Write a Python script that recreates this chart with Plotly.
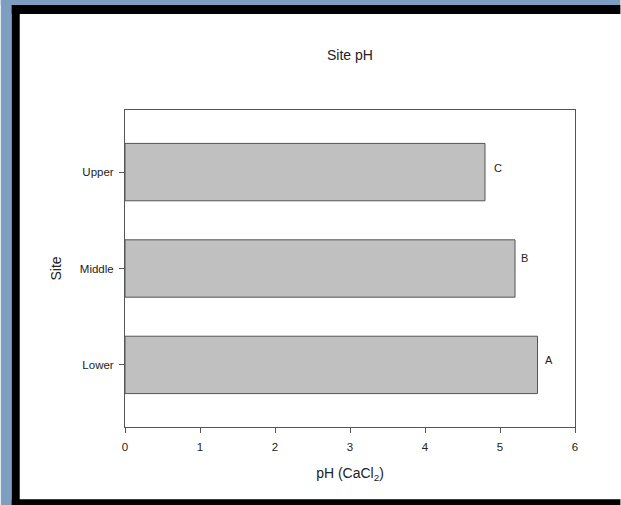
import plotly.graph_objects as go

sites = ["Lower", "Middle", "Upper"]
ph_values = [5.5, 5.2, 4.8]
letters = ["A", "B", "C"]
x_ticks = [0, 1, 2, 3, 4, 5, 6]

W, H = 621, 505
L, R, T, B = 124.5, 575.5, 110, 426.7
pw, ph = R - L, B - T

def px(x):
    return (x - L) / pw

def py(y):
    return (B - y) / ph

TXT = "#222222"

fig = go.Figure()
fig.add_trace(go.Bar(
    y=sites, x=ph_values, orientation="h",
    marker=dict(color="#c0c0c0", line=dict(color="#555555", width=1)),
    showlegend=False, hoverinfo="skip",
))

shifts = {"A": (11, 5), "B": (9, 11), "C": (13, 4)}
for s, v, lt in zip(sites, ph_values, letters):
    dx, dy = shifts[lt]
    fig.add_annotation(x=v, y=s, text=lt, showarrow=False, xanchor="center", yanchor="middle",
                       xshift=dx, yshift=dy, font=dict(size=11, color=TXT))

shapes = [
    dict(type="rect", xref="paper", yref="paper", x0=px(0), x1=px(11), y0=py(H), y1=py(0),
         fillcolor="#7d9dc1", line=dict(width=0), layer="above"),
    dict(type="rect", xref="paper", yref="paper", x0=px(0), x1=px(W), y0=py(5), y1=py(0),
         fillcolor="#7d9dc1", line=dict(width=0), layer="above"),
    dict(type="rect", xref="paper", yref="paper", x0=px(11), x1=px(19), y0=py(H), y1=py(5),
         fillcolor="#000000", line=dict(width=0), layer="above"),
    dict(type="rect", xref="paper", yref="paper", x0=px(11), x1=px(W), y0=py(14), y1=py(5),
         fillcolor="#000000", line=dict(width=0), layer="above"),
    dict(type="rect", xref="paper", yref="paper", x0=px(11), x1=px(W), y0=py(H), y1=py(499),
         fillcolor="#000000", line=dict(width=0), layer="above"),
]

fig.update_layout(
    width=W, height=H,
    margin=dict(l=L, r=W - R, t=T, b=H - B, pad=0),
    paper_bgcolor="white", plot_bgcolor="white",
    font=dict(family="Liberation Sans, Arial, sans-serif", color=TXT),
    bargap=0.405,
    shapes=shapes,
    title=dict(text="Site pH", x=px(350), xref="paper", xanchor="center",
               y=1 - 55 / H, yanchor="middle", font=dict(size=14, color=TXT)),
    xaxis=dict(range=[0, 6], tickvals=x_ticks, ticks="outside", ticklen=5, tickcolor="#555555",
               showline=True, linecolor="#555555", linewidth=1, mirror=True, showgrid=False,
               zeroline=False, tickfont=dict(size=11.5, color=TXT), ticklabelstandoff=4,
               title=dict(text="pH (CaCl<sub>2</sub>)", font=dict(size=14, color=TXT), standoff=16)),
    yaxis=dict(type="category", categoryorder="array", categoryarray=sites,
               range=[-0.644, 2.644], ticks="outside", ticklen=5, tickcolor="#555555",
               showline=True, linecolor="#555555", linewidth=1, mirror=True, showgrid=False,
               zeroline=False, tickfont=dict(size=11.5, color=TXT), ticklabelstandoff=3,
               title=dict(text="Site", font=dict(size=14, color=TXT), standoff=14)),
)

fig.write_html("out.html")
